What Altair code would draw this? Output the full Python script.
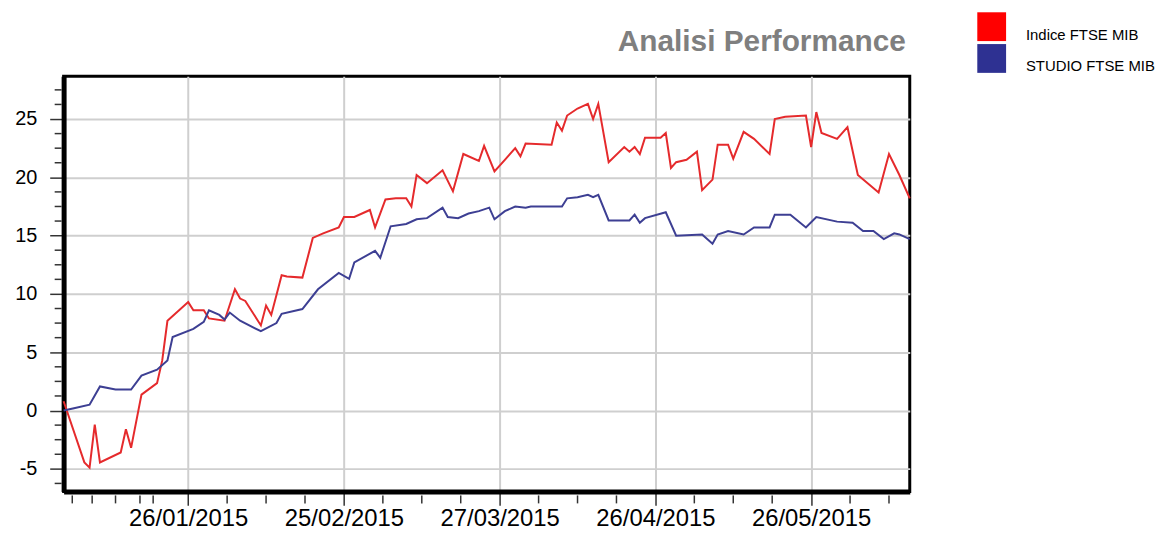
import altair as alt
import pandas as pd

# ---------------- data ----------------
series_names = ["Indice FTSE MIB", "STUDIO FTSE MIB"]

red_dates = [
    "2015-01-02", "2015-01-06", "2015-01-07", "2015-01-08", "2015-01-09", "2015-01-13",
    "2015-01-14", "2015-01-15", "2015-01-17", "2015-01-20", "2015-01-21", "2015-01-22",
    "2015-01-26", "2015-01-27", "2015-01-29", "2015-01-30", "2015-02-02", "2015-02-04",
    "2015-02-05", "2015-02-06", "2015-02-09", "2015-02-10", "2015-02-11", "2015-02-13",
    "2015-02-14", "2015-02-17", "2015-02-19", "2015-02-21", "2015-02-24", "2015-02-25",
    "2015-02-27", "2015-03-02", "2015-03-03", "2015-03-05", "2015-03-07", "2015-03-09",
    "2015-03-10", "2015-03-11", "2015-03-13", "2015-03-16", "2015-03-18", "2015-03-20",
    "2015-03-23", "2015-03-24", "2015-03-26", "2015-03-28", "2015-03-30", "2015-03-31",
    "2015-04-01", "2015-04-06", "2015-04-07", "2015-04-08", "2015-04-09", "2015-04-11",
    "2015-04-13", "2015-04-14", "2015-04-15", "2015-04-17", "2015-04-20", "2015-04-21",
    "2015-04-22", "2015-04-23", "2015-04-24", "2015-04-27", "2015-04-28", "2015-04-29",
    "2015-04-30", "2015-05-02", "2015-05-04", "2015-05-05", "2015-05-07", "2015-05-08",
    "2015-05-10", "2015-05-11", "2015-05-13", "2015-05-15", "2015-05-18", "2015-05-19",
    "2015-05-21", "2015-05-25", "2015-05-26", "2015-05-27", "2015-05-28", "2015-05-31",
    "2015-06-02", "2015-06-04", "2015-06-08", "2015-06-10", "2015-06-12", "2015-06-14",
]
red_values = [
    0.8, -4.45, -4.9, -1.2, -4.45, -3.6,
    -1.6, -3.2, 1.36, 2.35, 4.3, 7.7,
    9.3, 8.6, 8.6, 7.9, 7.7, 10.4,
    9.6, 9.4, 7.3, 9.0, 8.2, 11.6,
    11.5, 11.4, 14.8, 15.2, 15.7, 16.6,
    16.6, 17.2, 15.7, 18.1, 18.2, 18.2,
    17.5, 20.2, 19.5, 20.6, 18.8, 22.0,
    21.4, 22.7, 20.5, 21.5, 22.5, 21.8,
    22.9, 22.8, 24.7, 24.0, 25.3, 25.9,
    26.3, 25.0, 26.3, 21.3, 22.6, 22.2,
    22.6, 22.0, 23.4, 23.4, 23.8, 20.8,
    21.3, 21.5, 22.2, 18.9, 19.8, 22.8,
    22.8, 21.6, 23.9, 23.3, 22.0, 25.0,
    25.2, 25.3, 22.6, 25.6, 23.8, 23.3,
    24.3, 20.2, 18.7, 22.0, 20.2, 18.2,
]

blue_dates = [
    "2015-01-02", "2015-01-04", "2015-01-07", "2015-01-09", "2015-01-12", "2015-01-15",
    "2015-01-17", "2015-01-20", "2015-01-22", "2015-01-23", "2015-01-27", "2015-01-29",
    "2015-01-30", "2015-02-01", "2015-02-02", "2015-02-03", "2015-02-05", "2015-02-09",
    "2015-02-12", "2015-02-13", "2015-02-17", "2015-02-20", "2015-02-24", "2015-02-26",
    "2015-02-27", "2015-03-03", "2015-03-04", "2015-03-06", "2015-03-09", "2015-03-11",
    "2015-03-13", "2015-03-16", "2015-03-17", "2015-03-19", "2015-03-21", "2015-03-23",
    "2015-03-25", "2015-03-26", "2015-03-28", "2015-03-30", "2015-04-01", "2015-04-02",
    "2015-04-08", "2015-04-09", "2015-04-11", "2015-04-13", "2015-04-14", "2015-04-15",
    "2015-04-17", "2015-04-21", "2015-04-22", "2015-04-23", "2015-04-24", "2015-04-28",
    "2015-04-30", "2015-05-05", "2015-05-07", "2015-05-08", "2015-05-10", "2015-05-13",
    "2015-05-15", "2015-05-18", "2015-05-19", "2015-05-22", "2015-05-25", "2015-05-27",
    "2015-05-31", "2015-06-03", "2015-06-05", "2015-06-07", "2015-06-09", "2015-06-11",
    "2015-06-12", "2015-06-14",
]
blue_values = [
    0.0, 0.2, 0.5, 2.07, 1.8, 1.8,
    3.0, 3.5, 4.3, 6.3, 7.0, 7.6,
    8.6, 8.2, 7.8, 8.4, 7.7, 6.8,
    7.5, 8.3, 8.7, 10.4, 11.8, 11.3,
    12.7, 13.7, 13.1, 15.8, 16.0, 16.4,
    16.5, 17.4, 16.6, 16.5, 16.9, 17.1,
    17.4, 16.4, 17.1, 17.5, 17.4, 17.5,
    17.5, 18.2, 18.3, 18.5, 18.3, 18.5,
    16.3, 16.3, 16.8, 16.1, 16.5, 17.0,
    15.0, 15.1, 14.3, 15.1, 15.4, 15.1,
    15.7, 15.7, 16.8, 16.8, 15.7, 16.6,
    16.2, 16.1, 15.4, 15.4, 14.7, 15.2,
    15.1, 14.7,
]

# tick positions
x_major_ticks = [(1, 26), (2, 25), (3, 27), (4, 26), (5, 26)]
x_minor_ticks = [(1, 3, 16), (1, 7, 12), (1, 12, 0), (1, 16, 17), (1, 19, 6),
                 (2, 2, 12), (2, 10, 0), (2, 17, 12), (3, 4, 12), (3, 12, 0),
                 (3, 19, 12), (4, 3, 12), (4, 11, 0), (4, 18, 12), (5, 3, 12),
                 (5, 11, 0), (5, 18, 12), (6, 2, 12), (6, 10, 0)]
y_major_ticks = [-5, 0, 5, 10, 15, 20, 25]
y_minor_ticks = [-6.25, -3.75, -2.5, -1.25, 1.25, 2.5, 3.75, 6.25, 7.5, 8.75,
                 11.25, 12.5, 13.75, 16.25, 17.5, 18.75, 21.25, 22.5, 23.75,
                 26.25, 27.5]

title_text = "Analisi Performance"
line_colors = ["#e52a2c", "#3d3f93"]
legend_colors = ["#ff0000", "#2e3192"]

# ---------------- build ----------------
assert len(red_dates) == len(red_values)
assert len(blue_dates) == len(blue_values)

df = pd.concat([
    pd.DataFrame({"date": pd.to_datetime(red_dates), "value": red_values,
                  "series": series_names[0]}),
    pd.DataFrame({"date": pd.to_datetime(blue_dates), "value": blue_values,
                  "series": series_names[1]}),
], ignore_index=True)

df_xminor = pd.DataFrame({"date": [pd.Timestamp(2015, m, d, h) for (m, d, h) in x_minor_ticks]})
df_yminor = pd.DataFrame({"value": y_minor_ticks})
df_legend = pd.DataFrame({"series": series_names})
df_title = pd.DataFrame({"t": [title_text]})

FONT = "Liberation Sans"
W, H = 852, 418

x_enc = alt.X(
    "date:T",
    scale=alt.Scale(domain=[alt.DateTime(year=2015, month=1, date=2),
                            alt.DateTime(year=2015, month=6, date=14)]),
    axis=alt.Axis(
        values=[alt.DateTime(year=2015, month=m, date=d) for (m, d) in x_major_ticks],
        format="%d/%m/%Y", title=None,
        labelFont=FONT, labelFontSize=24, labelColor="black", labelPadding=1,
        labelOverlap=False, labelFlush=False,
        domainColor="black", domainWidth=5,
        tickColor="#333333", tickWidth=1.5, tickSize=14,
        grid=True, gridColor="#cfcfcf", gridWidth=2,
    ),
)
y_enc = alt.Y(
    "value:Q",
    scale=alt.Scale(domain=[-6.94, 28.66], nice=False, zero=False),
    axis=alt.Axis(
        values=y_major_ticks, title=None,
        labelExpr="'' + datum.value",
        labelFont=FONT, labelFontSize=20, labelColor="black", labelPadding=13,
        labelOverlap=False, labelFlush=False,
        domainColor="black", domainWidth=5,
        tickColor="#333333", tickWidth=1.5, tickSize=14,
        grid=True, gridColor="#cfcfcf", gridWidth=2,
    ),
)

lines = alt.Chart(df).mark_line(strokeWidth=2).encode(
    x=x_enc,
    y=y_enc,
    color=alt.Color("series:N",
                    scale=alt.Scale(domain=series_names, range=line_colors),
                    legend=None),
    detail="series:N",
)

x_minor = alt.Chart(df_xminor).mark_rule(color="#333333", strokeWidth=1.5).encode(
    x=x_enc, y=alt.value(H + 4), y2=alt.value(H + 12),
)
y_minor = alt.Chart(df_yminor).mark_rule(color="#333333", strokeWidth=1.5).encode(
    y=y_enc, x=alt.value(-9), x2=alt.value(-2),
)

plot = alt.layer(lines, x_minor, y_minor)

legend_y = alt.Y("series:N", axis=None,
                 scale=alt.Scale(domain=series_names, range=[-50, -18], padding=0))
legend_squares = alt.Chart(df_legend).mark_square(size=841, opacity=1, filled=True).encode(
    x=alt.value(934.5),
    y=legend_y,
    fill=alt.Fill("series:N",
                  scale=alt.Scale(domain=series_names, range=legend_colors),
                  legend=None),
)
legend_text = alt.Chart(df_legend).mark_text(
    align="left", baseline="middle", dy=8, font=FONT, fontSize=15, color="black",
).encode(
    x=alt.value(969),
    y=legend_y,
    text="series:N",
)
title_mark = alt.Chart(df_title).mark_text(
    align="right", baseline="alphabetic", font=FONT, fontSize=30,
    fontWeight="bold", color="#7f7f7f",
).encode(x=alt.value(W - 4), y=alt.value(-25.5), text="t:N")

chart = alt.layer(plot, legend_squares, legend_text, title_mark).resolve_scale(
    y="independent"
).properties(
    width=W,
    height=H,
    autosize=alt.AutoSizeParams(type="none"),
    padding={"left": 56, "top": 67, "right": 255, "bottom": 39},
    background="white",
).configure_view(
    stroke="black", strokeWidth=3,
)

chart.save("out.html", embed_options={"renderer": "svg", "actions": False})
